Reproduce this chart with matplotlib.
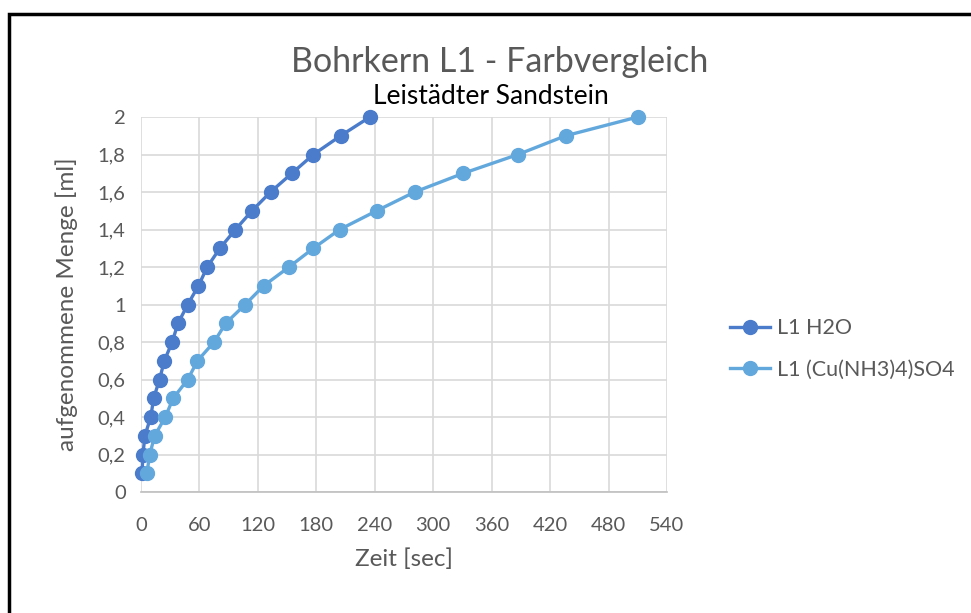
import matplotlib
matplotlib.use("Agg")
import matplotlib.pyplot as plt
from matplotlib.patches import Rectangle

plt.rcParams['font.family'] = ['Lato', 'DejaVu Sans']

# Data
volume_ml = [0.1, 0.2, 0.3, 0.4, 0.5, 0.6, 0.7, 0.8, 0.9, 1.0,
             1.1, 1.2, 1.3, 1.4, 1.5, 1.6, 1.7, 1.8, 1.9, 2.0]
time_h2o = [1, 2, 4, 10, 13, 19, 24, 32, 38, 48,
            59, 68, 81, 97, 114, 133, 155, 177, 205, 235]
time_cu = [6, 9, 14, 25, 33, 48, 58, 75, 87, 107,
           126, 152, 177, 204, 242, 281, 331, 387, 436, 510]
series_names = ["L1 H2O", "L1 (Cu(NH3)4)SO4"]
x_ticks = [0, 60, 120, 180, 240, 300, 360, 420, 480, 540]
y_ticks = [0, 0.2, 0.4, 0.6, 0.8, 1.0, 1.2, 1.4, 1.6, 1.8, 2.0]
y_tick_labels = ["0", "0,2", "0,4", "0,6", "0,8", "1", "1,2", "1,4", "1,6", "1,8", "2"]

W, H = 971, 613
fig = plt.figure(figsize=(W / 100, H / 100), dpi=100)
ax = fig.add_axes([141 / W, 1 - 492 / H, (667 - 141) / W, (492 - 117) / H])

c1 = "#4A7CCB"
c2 = "#63A8DD"
gray = "#595959"

ax.plot(time_h2o, volume_ml, '-o', color=c1, lw=2.4, ms=10, label=series_names[0], zorder=3, clip_on=False)
ax.plot(time_cu, volume_ml, '-o', color=c2, lw=2.4, ms=10, label=series_names[1], zorder=3, clip_on=False)

ax.set_xlim(0, 540)
ax.set_ylim(0, 2)
ax.set_xticks(x_ticks)
ax.set_xticklabels([str(v) for v in x_ticks])
ax.set_yticks(y_ticks)
ax.set_yticklabels(y_tick_labels)
ax.grid(True, color="#D9D9D9", lw=1.2)
ax.set_axisbelow(True)
for s in ['top', 'right', 'left']:
    ax.spines[s].set_visible(False)
ax.spines['bottom'].set_color("#BFBFBF")
ax.spines['bottom'].set_linewidth(1.2)
ax.tick_params(axis='both', length=0, colors=gray, labelsize=14.5)
ax.tick_params(axis='x', pad=18)
ax.tick_params(axis='y', pad=11)

ax.set_xlabel("Zeit [sec]", color=gray, fontsize=17.5, labelpad=10)
ax.set_ylabel("aufgenommene Menge [ml]", color=gray, fontsize=17.5, labelpad=14)

fig.text(500 / W, 1 - 62 / H, "Bohrkern L1 - Farbvergleich", ha='center', va='center',
         color=gray, fontsize=24.5)
fig.text(491 / W, 1 - 96 / H, "Leistädter Sandstein", ha='center', va='center',
         color="black", fontsize=19)

leg = fig.legend(loc='center left', bbox_to_anchor=(711 / W, 1 - 349 / H), frameon=False,
                 fontsize=15.5, handlelength=1.85, labelspacing=1.0, handletextpad=0.3)
for t in leg.get_texts():
    t.set_color(gray)

fig.patches.append(Rectangle((9 / W, -0.05), 1.1, 1.05 - 14 / H, transform=fig.transFigure,
                             fill=False, edgecolor="black", lw=2.5, zorder=10))

fig.savefig("out.png", dpi=100, facecolor="white")
